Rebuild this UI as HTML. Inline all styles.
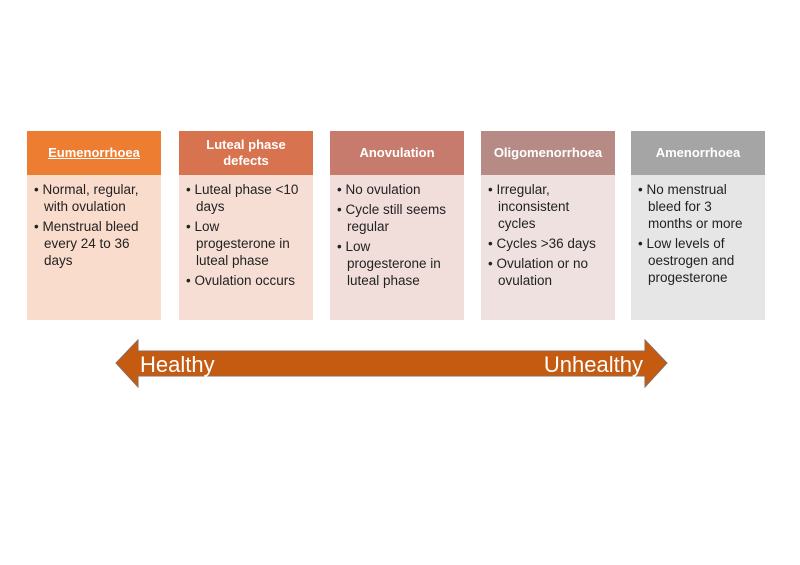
<!DOCTYPE html>
<html><head><style>
body{margin:0;width:800px;height:565px;background:#fff;font-family:"Liberation Sans",sans-serif;position:relative;overflow:hidden}
.b{position:absolute;top:131px;width:134px;height:189px}
.h{height:44px;display:flex;align-items:center;justify-content:center;text-align:center;color:#fff;font-weight:bold;font-size:13px;line-height:16px}
.c{box-sizing:border-box;height:145px;padding:6px 8px 0 7px;font-size:13.5px;line-height:17px;color:#222}
.c div{padding-left:10px;text-indent:-10px;margin-bottom:3px}
</style></head><body>
<div class="b" style="left:27px"><div class="h" style="background:#ED7D31"><u>Eumenorrhoea</u></div><div class="c" style="background:#FADCCC"><div>• Normal, regular, with ovulation</div><div>• Menstrual bleed every 24 to 36 days</div></div></div>
<div class="b" style="left:179px"><div class="h" style="background:#D8734F">Luteal phase<br>defects</div><div class="c" style="background:#F6DED4"><div>• Luteal phase &lt;10 days</div><div>• Low<br>progesterone in luteal phase</div><div>• Ovulation occurs</div></div></div>
<div class="b" style="left:330px"><div class="h" style="background:#C77B6C">Anovulation</div><div class="c" style="background:#F1DEDA"><div>• No ovulation</div><div>• Cycle still seems regular</div><div>• Low<br>progesterone in luteal phase</div></div></div>
<div class="b" style="left:481px"><div class="h" style="background:#B68B85">Oligomenorrhoea</div><div class="c" style="background:#EEE1E0"><div>• Irregular, inconsistent cycles</div><div>• Cycles &gt;36 days</div><div>• Ovulation or no ovulation</div></div></div>
<div class="b" style="left:631px"><div class="h" style="background:#A5A5A5">Amenorrhoea</div><div class="c" style="background:#E6E6E6"><div>• No menstrual bleed for 3 months or more</div><div>• Low levels of oestrogen and progesterone</div></div></div>
<svg style="position:absolute;left:0;top:0" width="800" height="565">
<polygon points="116,363 138,340 138,351 645,351 645,340 667,363 645,387 645,376 138,376 138,387" fill="#C55A11" stroke="#8a6a5a" stroke-width="1"/>
<text x="140" y="372" font-family="Liberation Sans,sans-serif" font-size="22" fill="#fff">Healthy</text>
<text x="643" y="372" text-anchor="end" font-family="Liberation Sans,sans-serif" font-size="22" fill="#fff">Unhealthy</text>
</svg>
</body></html>
